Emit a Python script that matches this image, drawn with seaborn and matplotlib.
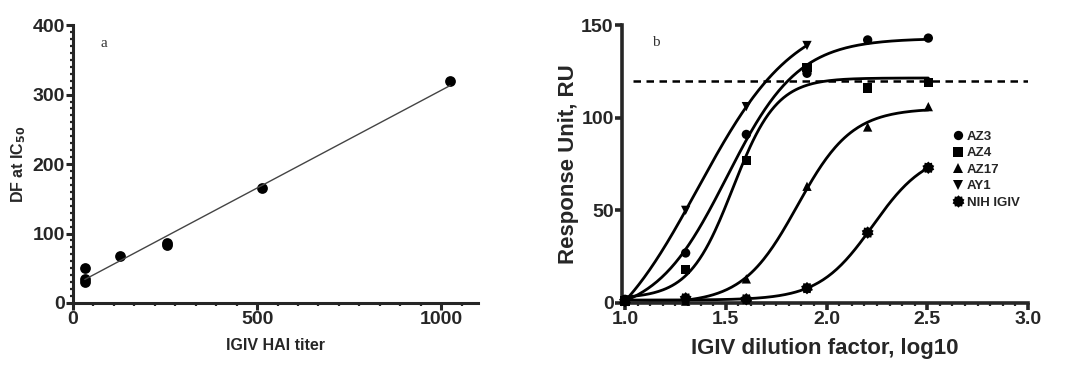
import numpy as np
import pandas as pd
import seaborn as sns
from matplotlib import pyplot as plt
from matplotlib.path import Path
from matplotlib.ticker import MultipleLocator, AutoMinorLocator

sns.set_style('ticks')
plt.rcParams['font.family'] = ['Liberation Sans', 'DejaVu Sans']

# panel a: HAI titer vs dilution factor at IC50
hai_titer = [32, 32, 32, 128, 256, 256, 512, 1024]
df_ic50 = [51, 34, 30, 68, 87, 83, 166, 319]

# panel b: binding response per dilution
dilution = [10, 20, 40, 80, 160, 320]
samples = ['AZ3', 'AZ4', 'AZ17', 'AY1', 'NIH IGIV']
ru_az3 = [2, 27, 91, 124, 142, 143]
ru_az4 = [1, 18, 77, 127, 116, 119]
ru_az17 = [1, 1, 13, 63, 95, 106]
ru_ay1 = [1, 50, 106, 139]
ru_nih = [1, 2.5, 2, 8, 38, 73]
threshold = 120

sun = Path.unit_regular_star(10, 0.8)
marker_map = {'AZ3': 'o', 'AZ4': 's', 'AZ17': '^', 'AY1': 'v', 'NIH IGIV': sun}
size_map = {'AZ3': 45, 'AZ4': 45, 'AZ17': 45, 'AY1': 45, 'NIH IGIV': 80}


def fit_sigmoid(x, y):
    # 4PL fit: grid over logEC50 / hill, least squares for bottom / top
    x = np.asarray(x, float)
    y = np.asarray(y, float)
    best = None
    for logec in np.linspace(1.0, 2.8, 361):
        for hill in np.linspace(0.5, 8, 151):
            s = 1.0 / (1.0 + 10 ** ((logec - x) * hill))
            A = np.column_stack([1 - s, s])
            coef, *_ = np.linalg.lstsq(A, y, rcond=None)
            sse = np.sum((A @ coef - y) ** 2)
            if best is None or sse < best[0]:
                best = (sse, coef[0], coef[1], logec, hill)
    return best[1:]


def sigmoid(x, bottom, top, logec, hill):
    return bottom + (top - bottom) / (1.0 + 10 ** ((logec - x) * hill))


log_dil = np.log10(dilution)
all_ru = [ru_az3, ru_az4, ru_az17, ru_ay1, ru_nih]

pts = []
curves = []
for name, ru in zip(samples, all_ru):
    xs = log_dil[:len(ru)]
    pts.append(pd.DataFrame({'x': xs, 'y': ru, 'sample': name}))
    params = fit_sigmoid(xs, ru)
    xx = np.linspace(xs[0], xs[-1], 200)
    curves.append(pd.DataFrame({'x': xx, 'y': sigmoid(xx, *params), 'sample': name}))
pts = pd.concat(pts, ignore_index=True)
curves = pd.concat(curves, ignore_index=True)

fig = plt.figure(figsize=(10.8, 3.71), dpi=100)
ax1 = fig.add_axes([0.0676, 0.1833, 0.375, 0.749])
ax2 = fig.add_axes([0.5759, 0.1833, 0.376, 0.749])

# ---- panel a
sns.regplot(x=hai_titer, y=df_ic50, ci=None, ax=ax1,
            scatter_kws=dict(color='black', s=60, alpha=1, linewidths=0, clip_on=False),
            line_kws=dict(color='#444444', lw=1))
ax1.set_xlim(0, 1100)
ax1.set_ylim(0, 400)
ax1.xaxis.set_major_locator(MultipleLocator(500))
ax1.xaxis.set_minor_locator(MultipleLocator(500 / 9))
ax1.yaxis.set_major_locator(MultipleLocator(100))
ax1.yaxis.set_minor_locator(AutoMinorLocator(10))
ax1.set_xlabel('IGIV HAI titer', fontsize=11.5, fontweight='bold', labelpad=7)
ax1.set_ylabel('DF at IC$_{\\mathbf{50}}$', fontsize=11.5, fontweight='bold')
ax1.yaxis.set_label_coords(-0.11, 0.5)
ax1.text(0.067, 0.935, 'a', transform=ax1.transAxes, family='Liberation Serif',
         fontsize=11, color='#333333', va='center')

# ---- panel b
sns.lineplot(data=curves, x='x', y='y', units='sample', estimator=None,
             color='black', lw=2, legend=False, ax=ax2)
sns.scatterplot(data=pts, x='x', y='y', style='sample', markers=marker_map,
                size='sample', sizes=size_map,
                color='black', linewidth=0, ax=ax2, clip_on=False, zorder=3)
ax2.hlines(threshold, 1.04, 3.0, colors='black', linestyles=(0, (3, 2.2)), lw=1.8)
ax2.set_xlim(0.985, 3.0)
ax2.set_ylim(0, 150)
ax2.xaxis.set_major_locator(MultipleLocator(0.5))
ax2.xaxis.set_minor_locator(AutoMinorLocator(8))
ax2.yaxis.set_major_locator(MultipleLocator(50))
ax2.xaxis.set_major_formatter(plt.FormatStrFormatter('%.1f'))
ax2.set_xlabel('IGIV dilution factor, log10', fontsize=16, fontweight='bold', labelpad=7)
ax2.set_ylabel('Response Unit, RU', fontsize=16, fontweight='bold')
ax2.yaxis.set_label_coords(-0.105, 0.5)
ax2.text(0.075, 0.936, 'b', transform=ax2.transAxes, family='Liberation Serif',
         fontsize=11, color='#333333', va='center')
ax2.legend(frameon=False, loc='center left', bbox_to_anchor=(0.785, 0.48),
           handletextpad=0.3, labelspacing=0.33, handlelength=0.8, markerscale=1.0,
           prop=dict(weight='bold', size=9.5))

for ax, tsize, lw in [(ax1, 14, 2.2), (ax2, 14, 2.6)]:
    sns.despine(ax=ax)
    for s in ['left', 'bottom']:
        ax.spines[s].set_linewidth(lw)
    ax.tick_params(which='major', direction='out', length=5, width=lw, labelsize=tsize, pad=1)
    ax.tick_params(which='minor', direction='out', length=2.5, width=1.6)
    for lab in ax.get_xticklabels() + ax.get_yticklabels():
        lab.set_fontweight('bold')

fig.savefig('out.png', dpi=100)
